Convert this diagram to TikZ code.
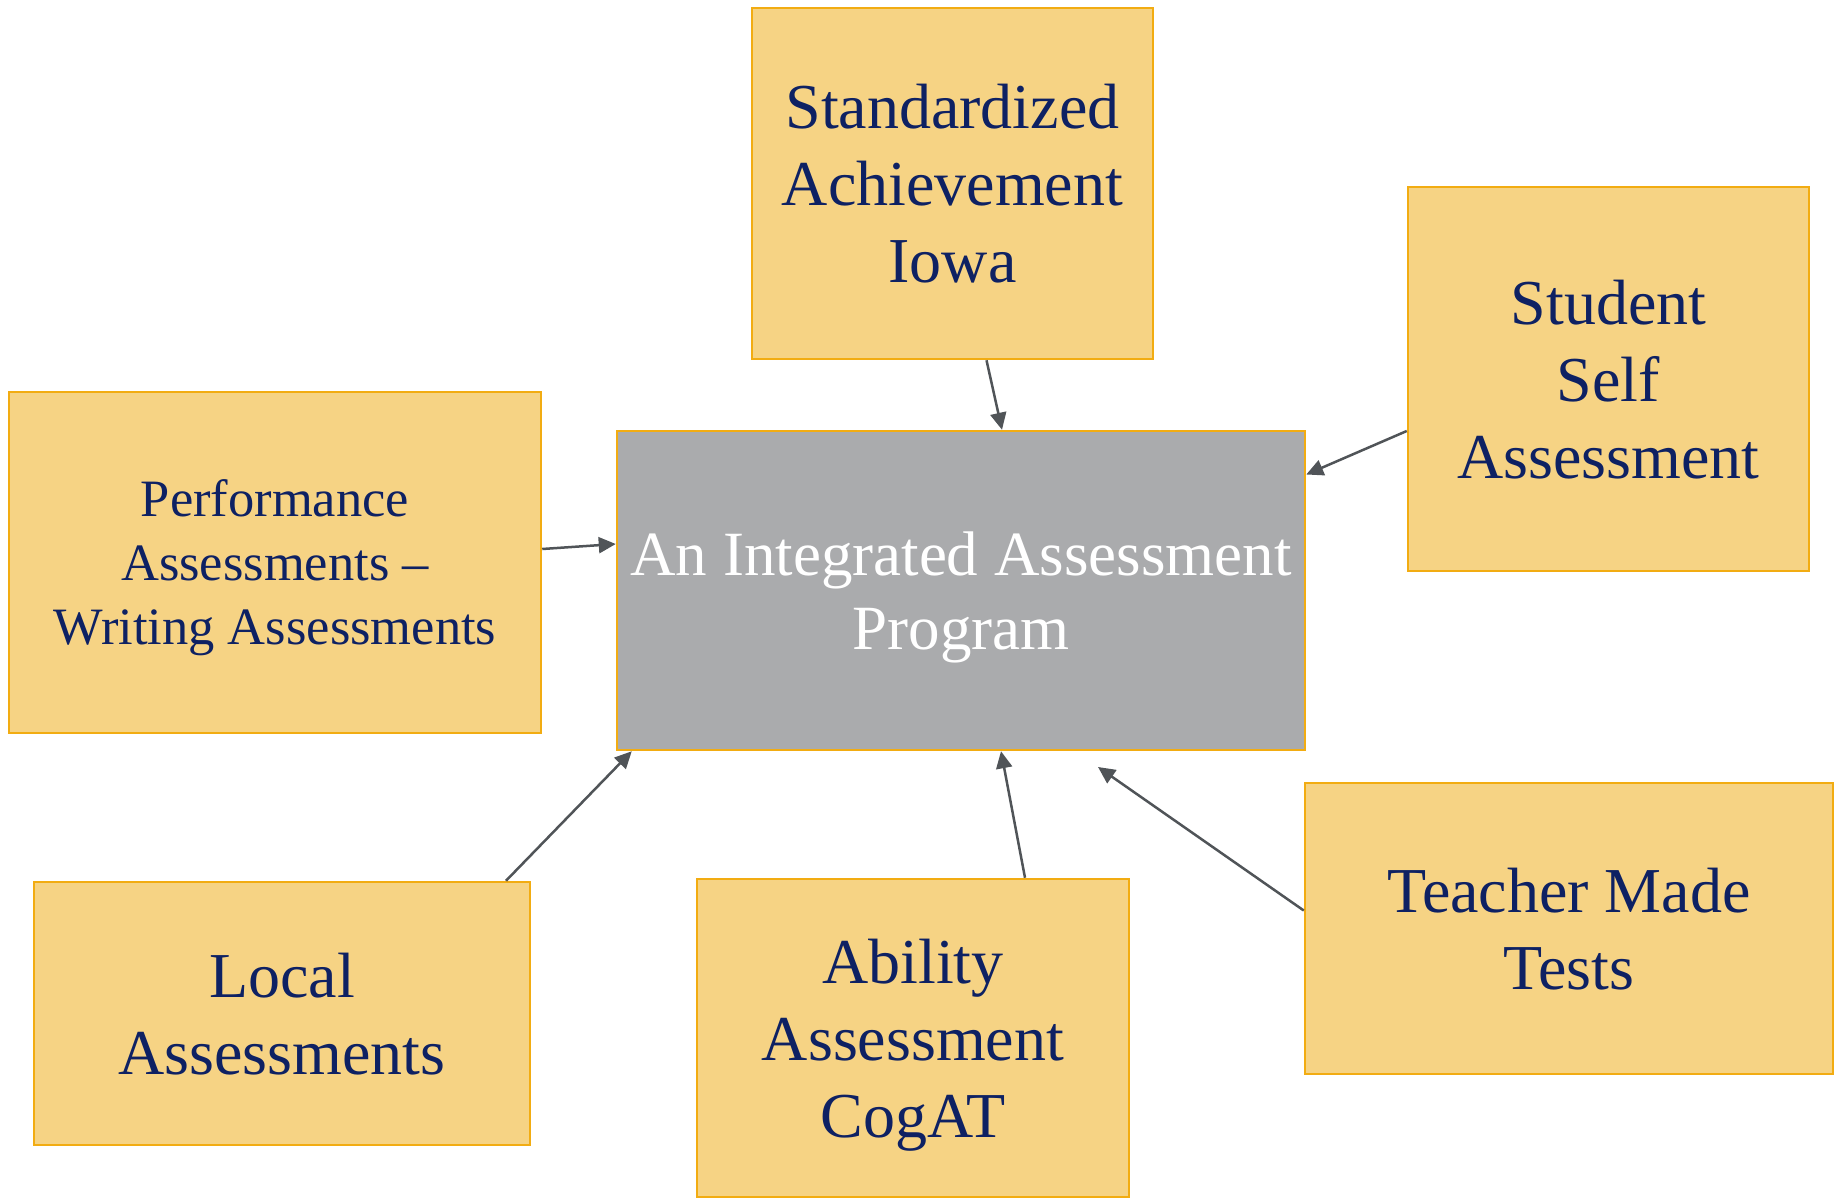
\documentclass[tikz,border=0pt]{standalone}
\usepackage{fontspec}
\setmainfont{Liberation Serif}
\usepackage{tikz}
\usetikzlibrary{positioning,arrows.meta}
\definecolor{boxfill}{HTML}{F6D384}
\definecolor{boxline}{HTML}{F2AC12}
\definecolor{hubfill}{HTML}{AAABAD}
\definecolor{navytext}{HTML}{0E2163}
\definecolor{arrowgrey}{HTML}{505458}

\begin{document}
\begin{tikzpicture}[x=1pt,y=-1pt,
		squarenode/.style={rectangle, draw=boxline, fill=boxfill, line width=2.5pt, text=navytext, align=center, inner sep=0pt, text depth=-4pt, font=\fontsize{64}{77}\selectfont},
		hubnode/.style={rectangle, draw=boxline, fill=hubfill, line width=2.5pt, text=white, align=center, inner sep=0pt, text depth=-4pt, font=\fontsize{63}{74}\selectfont},
		feed/.style={-{Triangle[length=17pt,width=16pt]}, draw=arrowgrey, line width=2.5pt},
		]
		\useasboundingbox (0,0) rectangle (1835,1199);
		%Nodes
		\node[hubnode]    (hub)     at (961,590.5)  [minimum width=688pt, minimum height=319pt] {An Integrated Assessment\\Program};
		\node[squarenode] (iowa)    at (952.5,183.5) [minimum width=401pt, minimum height=351pt] {Standardized\\Achievement\\Iowa};
		\node[squarenode] (self)    at (1608.5,379) [minimum width=401pt, minimum height=384pt] {Student\\Self\\Assessment};
		\node[squarenode] (writing) at (275,562.5)  [minimum width=532pt, minimum height=341pt, font=\fontsize{52.5}{64}\selectfont] {Performance\\Assessments --\\Writing Assessments};
		\node[squarenode] (local)   at (282,1013.5) [minimum width=496pt, minimum height=263pt] {Local\\Assessments};
		\node[squarenode] (cogat)   at (913,1038)   [minimum width=432pt, minimum height=318pt] {Ability\\Assessment\\CogAT};
		\node[squarenode] (teacher) at (1569,928.5) [minimum width=528pt, minimum height=291pt] {Teacher Made\\Tests};
		\coordinate (teacherend) at (1098,767);
		
		%Lines
		\draw[feed] ([xshift=34pt]iowa.south) -- ([xshift=41pt]hub.north);
		\draw[feed] ([yshift=-52pt]self.west) -- ([yshift=116pt]hub.east);
		\draw[feed] ([yshift=13.5pt]writing.east) -- ([yshift=46.5pt]hub.west);
		\draw[feed] ([xshift=224pt]local.north) -- ([xshift=16pt]hub.south west);
		\draw[feed] ([xshift=112pt]cogat.north) -- ([xshift=40pt]hub.south);
		\draw[feed] ([yshift=18pt]teacher.west) -- (teacherend);
		\end{tikzpicture}
\end{document}
